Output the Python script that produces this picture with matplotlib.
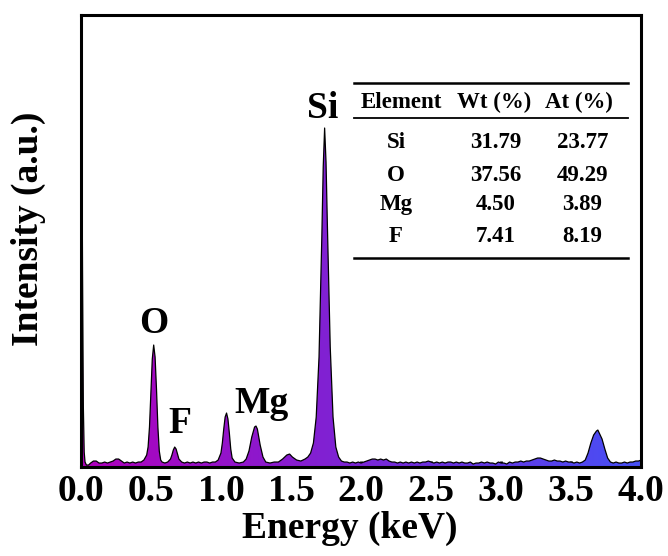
import numpy as np
from matplotlib import pyplot as plt
from matplotlib.colors import LinearSegmentedColormap

# EDS spectrum (energy in keV, intensity in arbitrary units)
energy = [
    0.000, 0.006, 0.012, 0.018, 0.024, 0.030, 0.040, 0.055, 0.070, 0.090,
    0.110, 0.130, 0.150, 0.170, 0.190, 0.210, 0.230, 0.250, 0.270, 0.290,
    0.310, 0.330, 0.350, 0.370, 0.390, 0.410, 0.430, 0.450, 0.470, 0.480,
    0.490, 0.500, 0.510, 0.520, 0.530, 0.540, 0.550, 0.560, 0.570, 0.580,
    0.600, 0.620, 0.640, 0.650, 0.660, 0.670, 0.680, 0.690, 0.700, 0.720,
    0.740, 0.760, 0.780, 0.800, 0.820, 0.840, 0.860, 0.880, 0.900, 0.920,
    0.940, 0.960, 0.980, 1.000, 1.010, 1.020, 1.030, 1.040, 1.050, 1.060,
    1.070, 1.080, 1.100, 1.130, 1.160, 1.180, 1.200, 1.220, 1.240, 1.250,
    1.260, 1.280, 1.300, 1.320, 1.350, 1.380, 1.410, 1.440, 1.470, 1.490,
    1.510, 1.540, 1.570, 1.600, 1.620, 1.640, 1.660, 1.680, 1.700, 1.720,
    1.730, 1.740, 1.750, 1.760, 1.780, 1.800, 1.820, 1.840, 1.860, 1.880,
    1.900, 1.920, 1.940, 1.960, 1.980, 2.000, 2.020, 2.040, 2.060, 2.080,
    2.100, 2.120, 2.140, 2.160, 2.180, 2.200, 2.220, 2.240, 2.260, 2.280,
    2.300, 2.320, 2.340, 2.360, 2.380, 2.400, 2.420, 2.440, 2.460, 2.480,
    2.500, 2.520, 2.540, 2.560, 2.580, 2.600, 2.620, 2.640, 2.660, 2.680,
    2.700, 2.720, 2.740, 2.760, 2.780, 2.800, 2.820, 2.840, 2.860, 2.880,
    2.900, 2.920, 2.940, 2.960, 2.980, 3.000, 3.020, 3.040, 3.060, 3.080,
    3.100, 3.120, 3.140, 3.160, 3.180, 3.200, 3.220, 3.240, 3.260, 3.280,
    3.300, 3.320, 3.340, 3.360, 3.380, 3.400, 3.420, 3.440, 3.460, 3.480,
    3.500, 3.520, 3.540, 3.560, 3.580, 3.600, 3.620, 3.640, 3.660, 3.680,
    3.690, 3.700, 3.720, 3.740, 3.760, 3.780, 3.800, 3.820, 3.840, 3.860,
    3.880, 3.900, 3.920, 3.940, 3.960, 3.980, 4.000,
]
intensity = [
    395, 380, 200, 60, 15, 5, 2, 2, 4, 6,
    6, 4, 4, 5, 4, 5, 6, 8, 8, 6,
    4, 5, 4, 5, 4, 5, 5, 7, 12, 20,
    40, 75, 108, 122, 110, 78, 40, 16, 7, 5,
    4, 5, 8, 12, 17, 20, 18, 13, 8, 5,
    4, 5, 4, 5, 4, 5, 4, 5, 5, 4,
    5, 5, 7, 14, 24, 38, 50, 54, 48, 34,
    18, 9, 5, 4, 5, 8, 16, 30, 40, 41,
    38, 22, 10, 5, 4, 5, 5, 8, 12, 13,
    10, 7, 6, 8, 10, 14, 24, 50, 110, 230,
    300, 339, 305, 240, 120, 50, 20, 10, 6, 5,
    5, 4, 5, 4, 5, 4, 5, 6, 7, 8,
    8, 7, 8, 7, 8, 6, 5, 5, 4, 5,
    4, 5, 4, 5, 4, 5, 4, 5, 5, 6,
    5, 4, 5, 4, 5, 4, 5, 5, 4, 5,
    4, 5, 4, 4, 5, 3, 4, 4, 5, 4,
    5, 4, 4, 3, 5, 4, 4, 3, 5, 4,
    5, 5, 6, 5, 6, 6, 7, 8, 9, 9,
    8, 7, 6, 6, 7, 6, 6, 5, 6, 5,
    5, 4, 5, 4, 5, 7, 14, 24, 32, 36,
    37, 34, 28, 18, 9, 5, 4, 5, 4, 4,
    5, 4, 5, 5, 6, 6, 7,
]

# peak labels
peak_names = ["Si", "O", "F", "Mg"]
peak_pos = [(0.432, 0.772), (0.130, 0.296), (0.177, 0.075), (0.323, 0.119)]

# composition table
table_header = ["Element", "Wt (%)", "At (%)"]
table_elements = ["Si", "O", "Mg", "F"]
table_wt = ["31.79", "37.56", "4.50", "7.41"]
table_at = ["23.77", "49.29", "3.89", "8.19"]

plt.rcParams["font.family"] = "Liberation Serif"
plt.rcParams["font.weight"] = "bold"

fig = plt.figure(figsize=(6.68, 5.56), dpi=100)
ax = fig.add_axes([0.121, 0.160, 0.839, 0.813])

ymax = 452
cmap = LinearSegmentedColormap.from_list("eds", ["#b000bc", "#7a26d6", "#4650f6"])

# gradient fill under the spectrum: an image clipped to the filled area
poly = ax.fill_between(energy, intensity, 0, color="none", lw=0)
grad = np.linspace(0, 1, 256).reshape(1, -1)
img = ax.imshow(grad, extent=[0, 4, 0, ymax], aspect="auto", cmap=cmap,
                origin="lower", zorder=2)
img.set_clip_path(poly.get_paths()[0], transform=ax.transData)
ax.plot(energy, intensity, color="black", lw=0.9, zorder=2.2)

ax.set_xlim(0, 4)
ax.set_ylim(0, ymax)
ax.set_xticks(np.arange(0, 4.01, 0.5))
ax.set_xticklabels([f"{t:.1f}" for t in np.arange(0, 4.01, 0.5)])
ax.set_yticks([])
ax.tick_params(axis="x", direction="in", length=4.5, width=2, labelsize=27, pad=5)
for sp in ax.spines.values():
    sp.set_linewidth(2.2)

ax.set_xlabel("Energy (keV)", fontsize=27, fontweight="bold")
ax.xaxis.set_label_coords(0.48, -0.098)
fig.text(0.042, 0.588, "Intensity (a.u.)", rotation=90, fontsize=27,
         fontweight="bold", ha="center", va="center")

for name, (px, py) in zip(peak_names, peak_pos):
    ax.text(px, py, name, transform=ax.transAxes, fontsize=27,
            fontweight="bold", ha="center", va="baseline", zorder=4)

# table drawn as text with horizontal rules
tr = ax.transAxes
x0, x1 = 0.4875, 0.977
ax.plot([x0, x1], [0.8496, 0.8496], color="black", lw=1.8, transform=tr)
ax.plot([x0, x1], [0.772, 0.772], color="black", lw=1.3, transform=tr)
ax.plot([x0, x1], [0.4624, 0.4624], color="black", lw=1.8, transform=tr)
col_x = [0.572, 0.738, 0.888]
for cx, h in zip(col_x, table_header):
    ax.text(cx, 0.8075, h, transform=tr, fontsize=16.5, fontweight="bold",
            ha="center", va="center")
row_y = [0.717, 0.646, 0.580, 0.509]
for ry, el, wt, at in zip(row_y, table_elements, table_wt, table_at):
    ax.text(0.5625, ry, el, transform=tr, fontsize=16.5, fontweight="bold",
            ha="center", va="center")
    ax.text(0.741, ry, wt, transform=tr, fontsize=16.5, fontweight="bold",
            ha="center", va="center")
    ax.text(0.895, ry, at, transform=tr, fontsize=16.5, fontweight="bold",
            ha="center", va="center")

plt.savefig("out.png", dpi=100)
